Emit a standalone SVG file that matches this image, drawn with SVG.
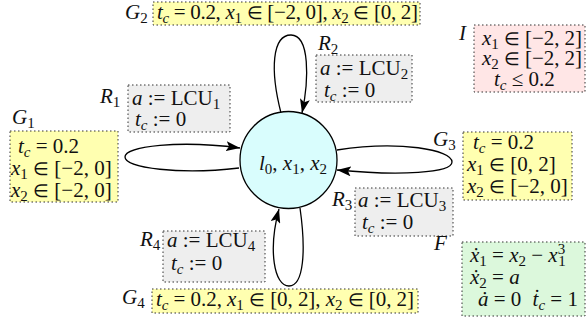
<svg xmlns="http://www.w3.org/2000/svg" width="588" height="320" viewBox="0 0 588 320" font-family="Liberation Serif, serif" font-size="21">
<style>
text{fill:#111}
.i{font-style:italic}
.s{font-size:15px}
.el{font-size:18px}
.y{fill:#ffffb0;stroke:#333;stroke-width:1;stroke-dasharray:1.5 2.5}
.g{fill:#eeeeee;stroke:#333;stroke-width:1;stroke-dasharray:1.5 2.5}
.p{fill:#ffe6e6;stroke:#333;stroke-width:1;stroke-dasharray:1.5 2.5}
.f{fill:#dcf8dc;stroke:#333;stroke-width:1;stroke-dasharray:1.5 2.5}
.e{fill:none;stroke:#000;stroke-width:1.3}
</style>
<defs>
<marker id="ah" markerUnits="userSpaceOnUse" markerWidth="15" markerHeight="10" refX="14" refY="5" orient="auto">
<path d="M0,0 L14,5 L0,10 L3,5 Z" fill="#000"/>
</marker>
</defs>
<g id="connectors">
<path class="e" d="M281,113 C270,70 272,35 291,35 C310,35 309,80 302,113" marker-end="url(#ah)"/>
<path class="e" d="M239,168 C180,175 125,168 125,157 C125,146 180,140 240,148" marker-end="url(#ah)"/>
<path class="e" d="M337,150 C400,140 452,150 452,162 C452,173 400,176 337,170" marker-end="url(#ah)"/>
<path class="e" d="M300,208 C306,250 304,286 289,286 C274,286 268,250 279,209" marker-end="url(#ah)"/>
</g>
<g id="node">
<circle cx="288.5" cy="160" r="48.5" fill="#d9fdfd" stroke="#000" stroke-width="1.3"/>
<text x="293" y="170" text-anchor="middle"><tspan class="i">l</tspan><tspan class="s" dy="4">0</tspan><tspan dy="-4">, </tspan><tspan class="i">x</tspan><tspan class="s" dy="4">1</tspan><tspan dy="-4">, </tspan><tspan class="i">x</tspan><tspan class="s" dy="4">2</tspan></text>
</g>
<g id="G2">
<text x="125" y="19"><tspan class="i">G</tspan><tspan class="s" dy="4">2</tspan></text>
<rect class="y" x="153" y="2" width="267" height="23"/>
<text x="157" y="19" textLength="261" lengthAdjust="spacing"><tspan class="i">t</tspan><tspan class="s i" dy="4">c</tspan><tspan dy="-4"> = 0.2, </tspan><tspan class="i">x</tspan><tspan class="s" dy="4">1</tspan><tspan dy="-4"> </tspan><tspan class="el">∈</tspan> [−2, 0], <tspan class="i">x</tspan><tspan class="s" dy="4">2</tspan><tspan dy="-4"> </tspan><tspan class="el">∈</tspan> [0, 2]</text>
</g>
<g id="R2">
<text x="318" y="50"><tspan class="i">R</tspan><tspan class="s" dy="4">2</tspan></text>
<rect class="g" x="316" y="55" width="96" height="47"/>
<text x="320" y="75"><tspan class="i">a</tspan> := LCU<tspan class="s" dy="4">2</tspan></text>
<text x="324" y="97"><tspan class="i">t</tspan><tspan class="s i" dy="4">c</tspan><tspan dy="-4"> := 0</tspan></text>
</g>
<g id="I">
<text x="459" y="40" class="i">I</text>
<rect class="p" x="474" y="25" width="111" height="67"/>
<text x="482" y="45" textLength="100" lengthAdjust="spacing"><tspan class="i">x</tspan><tspan class="s" dy="4">1</tspan><tspan dy="-4"> </tspan><tspan class="el">∈</tspan> [−2, 2]</text>
<text x="482" y="65" textLength="100" lengthAdjust="spacing"><tspan class="i">x</tspan><tspan class="s" dy="4">2</tspan><tspan dy="-4"> </tspan><tspan class="el">∈</tspan> [−2, 2]</text>
<text x="494" y="86"><tspan class="i">t</tspan><tspan class="s i" dy="4">c</tspan><tspan dy="-4"> ≤ 0.2</tspan></text>
</g>
<g id="R1">
<text x="100" y="103"><tspan class="i">R</tspan><tspan class="s" dy="4">1</tspan></text>
<rect class="g" x="128" y="85" width="102" height="47"/>
<text x="132" y="105"><tspan class="i">a</tspan> := LCU<tspan class="s" dy="4">1</tspan></text>
<text x="135" y="126"><tspan class="i">t</tspan><tspan class="s i" dy="4">c</tspan><tspan dy="-4"> := 0</tspan></text>
</g>
<g id="G1">
<text x="12" y="124"><tspan class="i">G</tspan><tspan class="s" dy="4">1</tspan></text>
<rect class="y" x="10" y="131" width="108" height="71"/>
<text x="18" y="153"><tspan class="i">t</tspan><tspan class="s i" dy="4">c</tspan><tspan dy="-4"> = 0.2</tspan></text>
<text x="11" y="175"><tspan class="i">x</tspan><tspan class="s" dy="4">1</tspan><tspan dy="-4"> </tspan><tspan class="el">∈</tspan> [−2, 0]</text>
<text x="11" y="197"><tspan class="i">x</tspan><tspan class="s" dy="4">2</tspan><tspan dy="-4"> </tspan><tspan class="el">∈</tspan> [−2, 0]</text>
</g>
<g id="G3">
<text x="433" y="146"><tspan class="i">G</tspan><tspan class="s" dy="4">3</tspan></text>
<rect class="y" x="463" y="132" width="109" height="68"/>
<text x="473" y="149"><tspan class="i">t</tspan><tspan class="s i" dy="4">c</tspan><tspan dy="-4"> = 0.2</tspan></text>
<text x="467" y="171"><tspan class="i">x</tspan><tspan class="s" dy="4">1</tspan><tspan dy="-4"> </tspan><tspan class="el">∈</tspan> [0, 2]</text>
<text x="467" y="193"><tspan class="i">x</tspan><tspan class="s" dy="4">2</tspan><tspan dy="-4"> </tspan><tspan class="el">∈</tspan> [−2, 0]</text>
</g>
<g id="R3">
<text x="332" y="206"><tspan class="i">R</tspan><tspan class="s" dy="4">3</tspan></text>
<rect class="g" x="355" y="188" width="98" height="48"/>
<text x="358" y="207"><tspan class="i">a</tspan> := LCU<tspan class="s" dy="4">3</tspan></text>
<text x="362" y="229"><tspan class="i">t</tspan><tspan class="s i" dy="4">c</tspan><tspan dy="-4"> := 0</tspan></text>
</g>
<g id="R4">
<text x="140" y="246"><tspan class="i">R</tspan><tspan class="s" dy="4">4</tspan></text>
<rect class="g" x="163" y="231" width="102" height="51"/>
<text x="167" y="247"><tspan class="i">a</tspan> := LCU<tspan class="s" dy="4">4</tspan></text>
<text x="171" y="270"><tspan class="i">t</tspan><tspan class="s i" dy="4">c</tspan><tspan dy="-4"> := 0</tspan></text>
</g>
<g id="G4">
<text x="122" y="304"><tspan class="i">G</tspan><tspan class="s" dy="4">4</tspan></text>
<rect class="y" x="152" y="289" width="266" height="24"/>
<text x="156" y="306" textLength="258" lengthAdjust="spacing"><tspan class="i">t</tspan><tspan class="s i" dy="4">c</tspan><tspan dy="-4"> = 0.2, </tspan><tspan class="i">x</tspan><tspan class="s" dy="4">1</tspan><tspan dy="-4"> </tspan><tspan class="el">∈</tspan> [0, 2], <tspan class="i">x</tspan><tspan class="s" dy="4">2</tspan><tspan dy="-4"> </tspan><tspan class="el">∈</tspan> [0, 2]</text>
</g>
<g id="F">
<text x="434" y="250" class="i">F</text>
<rect class="f" x="462" y="242" width="123" height="74"/>
<text x="470" y="262"><tspan class="i">ẋ</tspan><tspan class="s" dy="4">1</tspan><tspan dy="-4"> = </tspan><tspan class="i">x</tspan><tspan class="s" dy="4">2</tspan><tspan dy="-4"> − </tspan><tspan class="i">x</tspan><tspan class="s" dy="-8">3</tspan><tspan class="s" dx="-7" dy="12">1</tspan></text>
<text x="470" y="284"><tspan class="i">ẋ</tspan><tspan class="s" dy="4">2</tspan><tspan dy="-4"> = </tspan><tspan class="i">a</tspan></text>
<text x="478" y="306"><tspan class="i">ȧ</tspan> = 0 <tspan class="i" dx="6">ṫ</tspan><tspan class="s i" dy="4">c</tspan><tspan dy="-4"> = 1</tspan></text>
</g>
</svg>
